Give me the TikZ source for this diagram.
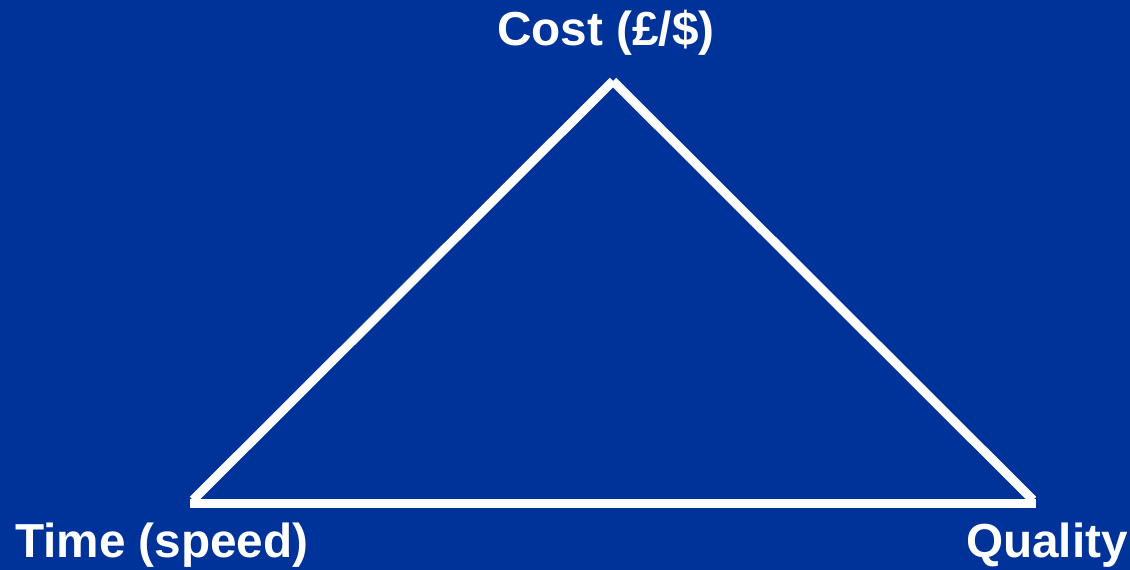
\documentclass[tikz,border=0pt]{standalone}
\usepackage{fontspec}
\setmainfont{Liberation Sans}
\definecolor{bgblue}{HTML}{003399}
\tikzset{
  edge/.style={draw=white, line width=9pt, line cap=butt},
  label/.style={text=white, font=\fontsize{47.7}{48}\selectfont\bfseries, inner sep=0pt, anchor=base west}
}
\begin{document}
\begin{tikzpicture}[x=1pt,y=-1pt]
\fill[bgblue] (0,0) rectangle (1130,570);
\useasboundingbox (0,0) rectangle (1130,570);
\coordinate (apex) at (613,81);
\coordinate (bl) at (193,500);
\coordinate (br) at (1033,500);
\coordinate (bls) at (190,503.5);
\coordinate (brs) at (1036,503.5);
\draw[edge] (apex) -- (bl);
\draw[edge] (apex) -- (br);
\draw[edge] (bls) -- (brs);
\node[label] (cost) at (497,45.5) {Cost (£/\$)};
\node[label] (time) at (15,557.5) {Time (speed)};
\node[label] (quality) at (966,557.5) {Quality};
\end{tikzpicture}
\end{document}
